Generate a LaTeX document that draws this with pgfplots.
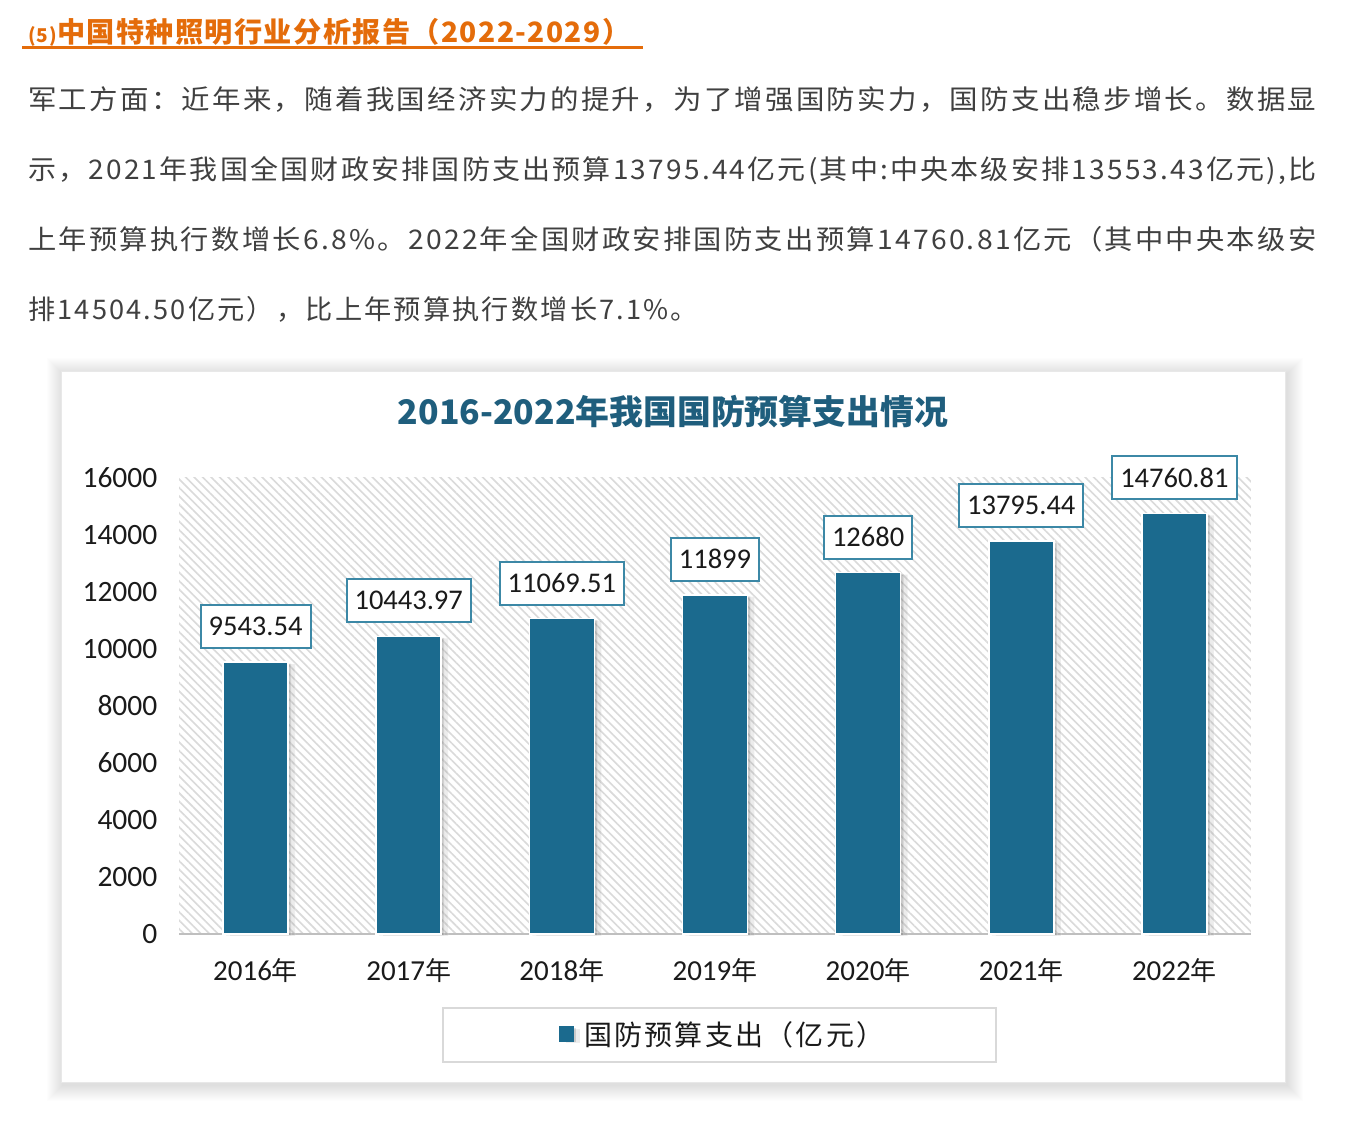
\documentclass[border=0pt]{standalone}
\usepackage{fontspec}
\usepackage{graphicx}
\usepackage{pgfplots}
\usepackage{pgfplotstable}
\pgfplotsset{compat=1.18}
\usetikzlibrary{patterns.meta,shadows}

\setmainfont{Noto Sans CJK SC}
\newfontfamily\cjk{Noto Sans CJK SC}
\newfontfamily\body[LetterSpace=8]{Noto Sans CJK SC}
\newfontfamily\head[LetterSpace=5]{Noto Sans CJK SC}
\newfontfamily\leg[LetterSpace=8]{Noto Sans CJK SC}
\newfontfamily\carl{Carlito}

\definecolor{barblue}{HTML}{1B6A8E}
\definecolor{boxteal}{HTML}{3C88A6}
\definecolor{titleteal}{HTML}{1F5E7D}
\definecolor{headorange}{HTML}{E46C0A}
\definecolor{bodygray}{HTML}{404040}
\definecolor{axgray}{HTML}{BFBFBF}
\definecolor{hatch}{HTML}{DADADA}
\definecolor{cardline}{HTML}{E8E8E8}
\definecolor{legline}{HTML}{D9D9D9}
\definecolor{labeltext}{HTML}{1A1A1A}

% national defence budget, 100 million yuan
\pgfplotstableread{
x val label
0 9543.54 9543.54
1 10443.97 10443.97
2 11069.51 11069.51
3 11899 11899
4 12680 12680
5 13795.44 13795.44
6 14760.81 14760.81
}\budget

\newcommand{\yr}[1]{{\carl #1}{\cjk\fontsize{26}{28}\selectfont 年}}

\begin{document}
\begin{tikzpicture}
% page
\path[use as bounding box, fill=white] (0pt,0pt) rectangle (1357pt,1123pt);

% section heading
\node[anchor=base west, inner sep=0pt, text=headorange] at (28pt,1080pt)
  {\resizebox{602pt}{\height}{\head\bfseries\fontsize{28}{30}\selectfont{\fontsize{19}{20}\selectfont(5)}中国特种照明行业分析报告（2022-2029）}};
\draw[headorange, line width=3pt] (22pt,1075pt) -- (643pt,1075pt);

% body text
\node[anchor=base west, inner sep=0pt, text=bodygray] at (28pt,1013pt)
  {\resizebox{1288pt}{\height}{\body\fontsize{27}{30}\selectfont 军工方面：近年来，随着我国经济实力的提升，为了增强国防实力，国防支出稳步增长。数据显}};
\node[anchor=base west, inner sep=0pt, text=bodygray] at (28pt,943pt)
  {\resizebox{1288pt}{\height}{\body\fontsize{27}{30}\selectfont 示，2021年我国全国财政安排国防支出预算13795.44亿元(其中:中央本级安排13553.43亿元),比}};
\node[anchor=base west, inner sep=0pt, text=bodygray] at (28pt,873pt)
  {\resizebox{1288pt}{\height}{\body\fontsize{27}{30}\selectfont 上年预算执行数增长6.8\%。2022年全国财政安排国防支出预算14760.81亿元（其中中央本级安}};
\node[anchor=base west, inner sep=0pt, text=bodygray] at (28pt,803pt)
  {\resizebox{670pt}{\height}{\body\fontsize{27}{30}\selectfont 排14504.50亿元），比上年预算执行数增长7.1\%。}};

% chart card with soft shadow
\foreach \s in {16,15,...,1}
  \fill[black, opacity=0.008] (61pt-\s pt+2pt,40pt-\s pt-2pt) rectangle (1285pt+\s pt+2pt,751pt+\s pt-2pt);
\draw[cardline, line width=1pt, fill=white] (61pt,40pt) rectangle (1285pt,751pt);

% chart title
\node[text=titleteal, inner sep=0pt] at (673pt,711pt)
  {\resizebox{550pt}{!}{\cjk\bfseries\fontsize{32}{34}\selectfont 2016-2022年我国国防预算支出情况}};

% legend frame
\draw[legline, line width=2pt, fill=white] (443pt,61pt) rectangle (996pt,115pt);

\begin{axis}[
  at={(179pt,189pt)}, anchor=south west,
  width=1072pt, height=456pt, scale only axis,
  xmin=-0.5, xmax=6.5, ymin=0, ymax=16000,
  xtick={0,...,6},
  xticklabels={\yr{2016},\yr{2017},\yr{2018},\yr{2019},\yr{2020},\yr{2021},\yr{2022}},
  ytick={0,2000,...,16000},
  scaled y ticks=false,
  /pgf/number format/1000 sep={},
  /pgf/number format/assume math mode=true,
  tick style={draw=none},
  axis x line=bottom, axis y line=left,
  x axis line style={-, draw=axgray, line width=2pt},
  y axis line style={draw=none},
  axis background/.style={pattern={Lines[angle=-45,distance=6pt,line width=1.6pt]}, pattern color=hatch},
  yticklabel style={font=\carl\fontsize{29.5}{31}\selectfont, text=labeltext, xshift=-16pt},
  xticklabel style={font=\carl\fontsize{29}{31}\selectfont, text=labeltext, yshift=-17pt},
  ybar, bar width=65pt,
  nodes near coords, point meta=explicit symbolic,
  every node near coord/.append style={font=\carl\fontsize{28.5}{30}\selectfont, text=labeltext,
    fill=white, draw=boxteal, line width=2pt, inner xsep=8pt, minimum height=43pt, yshift=13pt},
  legend style={at={(0.507,-0.219)}, anchor=center, draw=none, fill=none,
    font=\leg\fontsize{28}{30}\selectfont, text=labeltext,
    /tikz/every odd column/.append style={column sep=8pt}},
  clip=false,
]
\addplot[fill=barblue, draw=white, line width=1.5pt,
  drop shadow={shadow xshift=3pt, shadow yshift=-1.5pt, opacity=0.25, fill=black!60},
  drop shadow={shadow xshift=7pt, shadow yshift=-2pt, opacity=0.12, fill=black!60},
  legend image code/.code={\fill[barblue] (0pt,-7pt) rectangle (14pt,7pt);}]
  table[x=x, y=val, meta=label] {\budget};
\addlegendentry{国防预算支出（亿元）}
\end{axis}
\end{tikzpicture}
\end{document}
